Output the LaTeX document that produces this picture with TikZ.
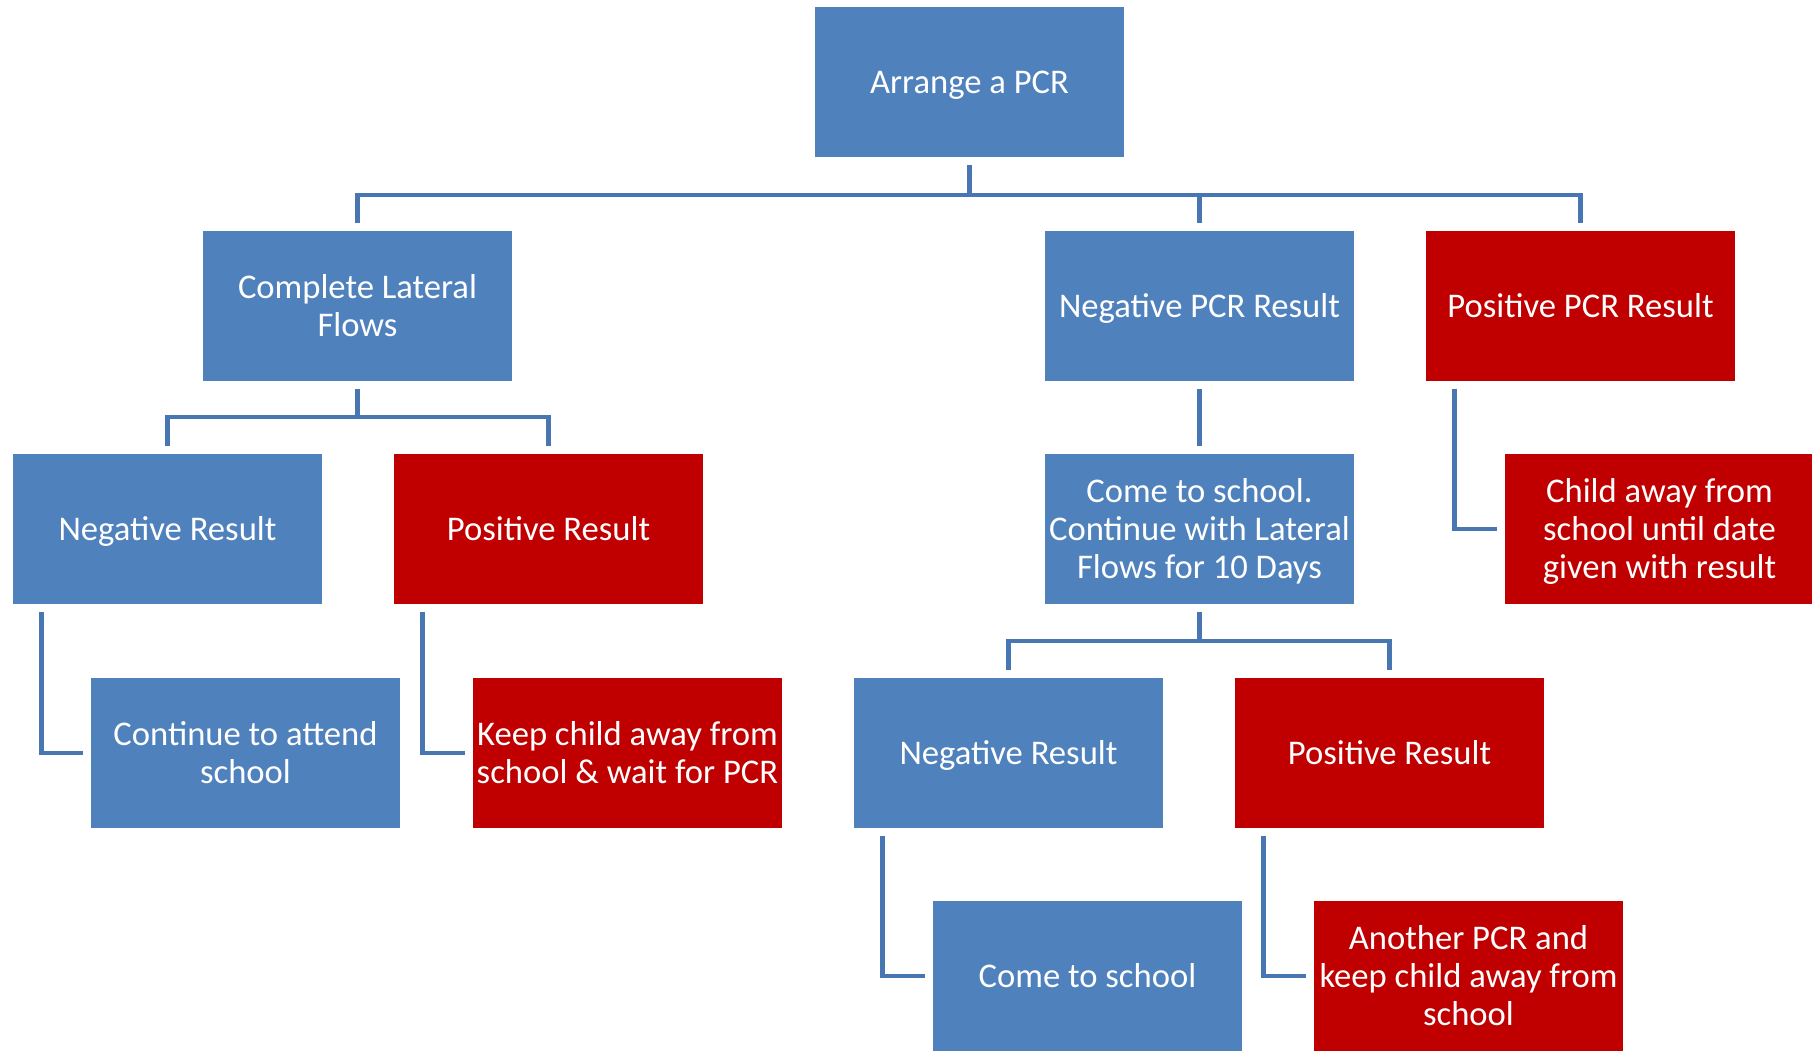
\documentclass[tikz,border=0pt]{standalone}
\usepackage{fontspec}
\setmainfont{Carlito}
\definecolor{boxblue}{HTML}{4F81BD}
\definecolor{boxred}{HTML}{C00000}
\definecolor{linkblue}{HTML}{4776B3}
% strut that centres a line on its cap height
\newcommand{\ls}{\rule[-2.06pt]{0pt}{10.46pt}}
\begin{document}
\begin{tikzpicture}[
  box/.style={rectangle, minimum width=3.09cm, minimum height=1.5cm, inner sep=0pt,
    align=center, text=white, font=\fontsize{9.85}{10.8}\selectfont},
  bluebox/.style={box, fill=boxblue},
  redbox/.style={box, fill=boxred},
  link/.style={draw=linkblue, line width=1.4pt}]
\useasboundingbox (0,0) rectangle (18.12,-10.51);
% boxes
\node[bluebox] (arrange) at (9.695,-0.82) {\ls Arrange a PCR};
\node[bluebox] (clf) at (3.575,-3.06) {\ls Complete Lateral\\\ls Flows};
\node[bluebox] (negpcr) at (11.995,-3.06) {\ls Negative PCR Result};
\node[redbox] (pospcr) at (15.805,-3.06) {\ls Positive PCR Result};
\node[bluebox] (neg1) at (1.675,-5.29) {\ls Negative Result};
\node[redbox] (pos1) at (5.485,-5.29) {\ls Positive Result};
\node[bluebox] (lfd) at (11.995,-5.29) {\ls Come to school.\\\ls Continue with Lateral\\\ls Flows for 10 Days};
\node[redbox] (away) at (16.595,-5.29) {\ls Child away from\\\ls school until date\\\ls given with result};
\node[bluebox] (cont) at (2.455,-7.53) {\ls Continue to attend\\\ls school};
\node[redbox] (keep) at (6.275,-7.53) {\ls Keep child away from\\\ls school \& wait for PCR};
\node[bluebox] (neg2) at (10.085,-7.53) {\ls Negative Result};
\node[redbox] (pos2) at (13.895,-7.53) {\ls Positive Result};
\node[bluebox] (come) at (10.875,-9.76) {\ls Come to school};
\node[redbox] (another) at (14.685,-9.76) {\ls Another PCR and\\\ls keep child away from\\\ls school};
% tree links
\coordinate (bus1) at (0,-1.95);
\coordinate (bus2) at (0,-4.17);
\coordinate (bus3) at (0,-6.41);
\draw[link] ([yshift=-0.07cm]arrange.south) -- (arrange.south |- bus1);
\draw[link] ([yshift=0.07cm]clf.north) -- (clf.north |- bus1) -- (pospcr.north |- bus1) -- ([yshift=0.07cm]pospcr.north);
\draw[link] (negpcr.north |- bus1) -- ([yshift=0.07cm]negpcr.north);
\draw[link] ([yshift=-0.07cm]clf.south) -- (clf.south |- bus2);
\draw[link] ([yshift=0.07cm]neg1.north) -- (neg1.north |- bus2) -- (pos1.north |- bus2) -- ([yshift=0.07cm]pos1.north);
\draw[link] ([yshift=-0.07cm]negpcr.south) -- ([yshift=0.07cm]lfd.north);
\draw[link] ([yshift=-0.07cm]lfd.south) -- (lfd.south |- bus3);
\draw[link] ([yshift=0.07cm]neg2.north) -- (neg2.north |- bus3) -- (pos2.north |- bus3) -- ([yshift=0.07cm]pos2.north);
% elbow links
\draw[link] ([xshift=0.29cm,yshift=-0.07cm]neg1.south west) |- ([xshift=-0.07cm]cont.west);
\draw[link] ([xshift=0.29cm,yshift=-0.07cm]pos1.south west) |- ([xshift=-0.07cm]keep.west);
\draw[link] ([xshift=0.29cm,yshift=-0.07cm]pospcr.south west) |- ([xshift=-0.07cm]away.west);
\draw[link] ([xshift=0.29cm,yshift=-0.07cm]neg2.south west) |- ([xshift=-0.07cm]come.west);
\draw[link] ([xshift=0.29cm,yshift=-0.07cm]pos2.south west) |- ([xshift=-0.07cm]another.west);
\end{tikzpicture}
\end{document}
